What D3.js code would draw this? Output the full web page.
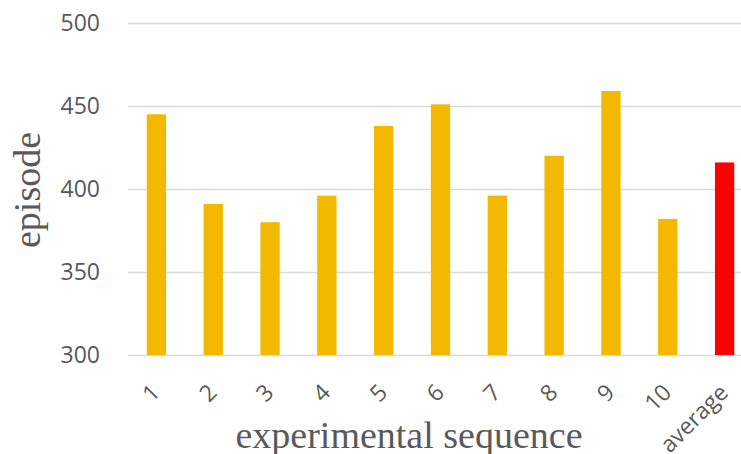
<!DOCTYPE html>
<html>
<head>
<meta charset="utf-8">
<script src="https://cdn.jsdelivr.net/npm/d3@7"></script>
<style>
  html, body { margin: 0; padding: 0; background: #fff; }
  svg { display: block; }
</style>
</head>
<body>
<svg id="chart" width="741" height="454"></svg>
<script>
// Episodes needed per experimental run, plus the average of all runs
const categories = ["1", "2", "3", "4", "5", "6", "7", "8", "9", "10", "average"];
const episodes = [445, 391, 380, 396, 438, 451, 396, 420, 459, 382, 416];
const yTicks = [300, 350, 400, 450, 500];

const svg = d3.select("#chart");
const margin = { left: 128, top: 23, bottom: 355 };
const labelFont = "'Open Sans', 'Liberation Sans', sans-serif";
const titleFont = "'Liberation Serif', 'DejaVu Serif', serif";

const x = d3.scaleBand()
  .domain(categories)
  .range([margin.left, 753])
  .paddingInner(0.66)
  .paddingOuter(0.33);

const y = d3.scaleLinear()
  .domain([300, 500])
  .range([margin.bottom, margin.top]);

// horizontal gridlines + tick labels
const yAxis = d3.axisLeft(y)
  .tickValues(yTicks)
  .tickSize(-(741 - margin.left))
  .tickPadding(28);

const gy = svg.append("g")
  .attr("transform", `translate(${margin.left},0)`)
  .call(yAxis);
gy.select(".domain").remove();
gy.selectAll(".tick line").attr("stroke", "#d9d9d9").attr("stroke-width", 1.3);
gy.selectAll(".tick text")
  .attr("fill", "#595959")
  .attr("font-family", labelFont)
  .attr("font-size", 23);

// bars
svg.append("g").selectAll("rect")
  .data(categories)
  .join("rect")
  .attr("x", d => x(d))
  .attr("width", x.bandwidth())
  .attr("y", (d, i) => y(episodes[i]))
  .attr("height", (d, i) => y(300) - y(episodes[i]))
  .attr("fill", d => d === "average" ? "#ff0000" : "#f2b900");

// category labels, rotated
const xAxis = d3.axisBottom(x).tickSize(0).tickPadding(0);
const gx = svg.append("g")
  .attr("transform", `translate(0,${margin.bottom})`)
  .call(xAxis);
gx.select(".domain").remove();
gx.selectAll(".tick text")
  .attr("fill", "#595959")
  .attr("font-family", labelFont)
  .attr("font-size", 23)
  .attr("text-anchor", "end")
  .attr("dy", 0)
  .attr("transform", "translate(5,39) rotate(-45)");

// axis titles
svg.append("text")
  .attr("x", 409)
  .attr("y", 448)
  .attr("text-anchor", "middle")
  .attr("fill", "#595959")
  .attr("font-family", titleFont)
  .attr("font-size", 38)
  .text("experimental sequence");

svg.append("text")
  .attr("transform", "translate(40,190) rotate(-90)")
  .attr("text-anchor", "middle")
  .attr("fill", "#595959")
  .attr("font-family", titleFont)
  .attr("font-size", 38)
  .text("episode");
</script>
</body>
</html>
